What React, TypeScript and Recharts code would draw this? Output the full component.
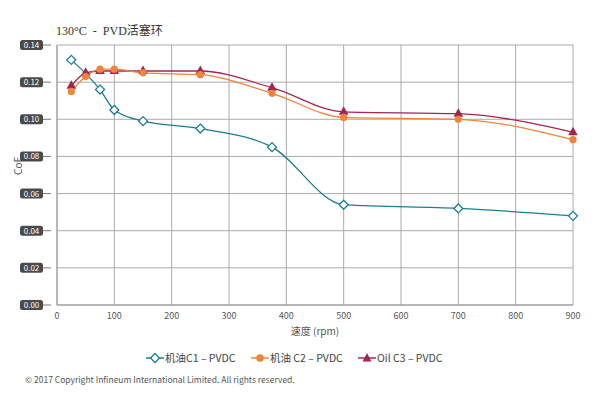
import React from 'react';
import { LineChart, Line, XAxis, YAxis, CartesianGrid } from 'recharts';

const speeds = [25, 50, 75, 100, 150, 250, 375, 500, 700, 900];
const oilC1 = [0.132, null, 0.116, 0.105, 0.099, 0.095, 0.085, 0.054, 0.052, 0.048];
const oilC2 = [0.115, 0.123, 0.127, 0.127, 0.125, 0.124, 0.114, 0.101, 0.1, 0.089];
const oilC3 = [0.118, 0.125, 0.126, 0.126, 0.126, 0.126, 0.117, 0.104, 0.103, 0.093];
const xTicks = [0, 100, 200, 300, 400, 500, 600, 700, 800, 900];
const yTicks = [0, 0.02, 0.04, 0.06, 0.08, 0.1, 0.12, 0.14];

const data = speeds.map((s, i) => ({ rpm: s, c1: oilC1[i], c2: oilC2[i], c3: oilC3[i] }));

const TEAL = '#1b7c97';
const ORANGE = '#f0843a';
const MAROON = '#a3264f';
const FONT = "'Liberation Sans Narrow', 'Noto Sans CJK SC', sans-serif";

const Diamond = (props: any) => {
  const { cx, cy, key } = props;
  if (cx == null || cy == null || props.value == null) return <g key={key} />;
  const r = 4.5;
  return (
    <path key={key} d={`M${cx},${cy - r}L${cx + r},${cy}L${cx},${cy + r}L${cx - r},${cy}Z`}
      fill="#fff" stroke={TEAL} strokeWidth={1.3} />
  );
};

const Circle = (props: any) => {
  const { cx, cy, key } = props;
  if (cx == null || cy == null) return <g key={key} />;
  return <circle key={key} cx={cx} cy={cy} r={3.6} fill={ORANGE} />;
};

const Triangle = (props: any) => {
  const { cx, cy, key } = props;
  if (cx == null || cy == null) return <g key={key} />;
  return (
    <path key={key} d={`M${cx},${cy - 5.5}L${cx + 4.8},${cy + 3}L${cx - 4.8},${cy + 3}Z`} fill={MAROON} />
  );
};

const YTick = (props: any) => {
  const { x, y, payload } = props;
  return (
    <g>
      <line x1={x - 6} x2={x + 2} y1={y} y2={y} stroke="#777" strokeWidth={1} />
      <rect x={x - 29} y={y - 5} width={23} height={10} rx={2.5} fill="#4a4a4a" />
      <text x={x - 17.5} y={y + 3} textAnchor="middle" fontSize={8} fill="#fff" fontFamily={FONT}>
        {payload.value.toFixed(2)}
      </text>
    </g>
  );
};

const LegendItem = ({ color, marker, label, left }: any) => (
  <div style={{ position: 'absolute', left, top: 350, display: 'flex', alignItems: 'center', fontFamily: FONT, fontSize: 10.5, color: '#444' }}>
    <svg width={18} height={12}>
      <line x1={0} x2={18} y1={6} y2={6} stroke={color} strokeWidth={1.5} />
      {marker === 'diamond' && <path d="M9,1.5L13.5,6L9,10.5L4.5,6Z" fill="#fff" stroke={color} strokeWidth={1.3} />}
      {marker === 'circle' && <circle cx={9} cy={6} r={3.8} fill={color} />}
      {marker === 'triangle' && <path d="M9,1L13.5,9.5L4.5,9.5Z" fill={color} />}
    </svg>
    <span style={{ marginLeft: 1 }}>{label}</span>
  </div>
);

export default function App() {
  return (
    <div style={{ position: 'absolute', left: 0, top: 0, width: 599, height: 399, background: '#fff' }}>
      <div style={{ position: 'absolute', left: 56, top: 21, fontSize: 12, color: '#333', whiteSpace: 'pre', fontFamily: "'Liberation Serif', 'Noto Sans CJK SC', serif" }}>
        {'130°C  -  PVD活塞环'}
      </div>
      <LineChart width={599} height={399} data={data} margin={{ top: 45, right: 26, bottom: 64, left: 0 }}>
        <CartesianGrid stroke="#aaaaaa" strokeWidth={1} />
        <XAxis dataKey="rpm" type="number" domain={[0, 900]} ticks={xTicks} stroke="#999"
          tickLine={false} height={30} interval={0}
          tick={{ fontSize: 9, fill: '#555', fontFamily: FONT }}
          label={{ value: '速度 (rpm)', position: 'insideBottom', offset: 0, fontSize: 10, fill: '#555', fontFamily: FONT }} />
        <YAxis type="number" domain={[0, 0.14]} ticks={yTicks} width={57} stroke="#999"
          tickLine={false} tick={<YTick />} interval={0}
          label={{ value: 'CoF', angle: -90, position: 'insideLeft', offset: 18, fontSize: 10, fill: '#555', fontFamily: FONT }} />
        <Line type="monotone" dataKey="c3" stroke={MAROON} strokeWidth={1.3} dot={Triangle} activeDot={false} isAnimationActive={false} />
        <Line type="monotone" dataKey="c2" stroke={ORANGE} strokeWidth={1.3} dot={Circle} activeDot={false} isAnimationActive={false} />
        <Line type="monotone" dataKey="c1" stroke={TEAL} strokeWidth={1.3} dot={Diamond} activeDot={false} connectNulls isAnimationActive={false} />
      </LineChart>
      <LegendItem color={TEAL} marker="diamond" label="机油C1 – PVDC" left={146} />
      <LegendItem color={ORANGE} marker="circle" label="机油 C2 – PVDC" left={251} />
      <LegendItem color={MAROON} marker="triangle" label="Oil C3 – PVDC" left={358} />
      <div style={{ position: 'absolute', left: 25, top: 373, fontSize: 8.5, color: '#555', fontFamily: FONT }}>
        © 2017 Copyright Infineum International Limited. All rights reserved.
      </div>
    </div>
  );
}
